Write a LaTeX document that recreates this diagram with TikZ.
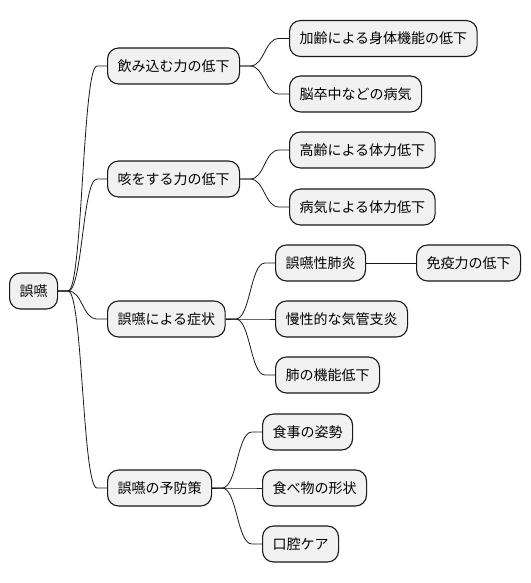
\documentclass[tikz,border=0pt]{standalone}
\usepackage{fontspec}
\setmainfont{Noto Sans CJK JP}
\usetikzlibrary{calc}
\definecolor{boxfill}{HTML}{F1F1F1}
\definecolor{boxline}{HTML}{181818}
\tikzset{
  mmnode/.style={draw=boxline, line width=1.1pt, fill=boxfill, rounded corners=11pt,
    inner xsep=10pt, inner ysep=0pt, minimum height=36pt, anchor=west,
    font=\fontsize{14}{16}\selectfont, text=black},
  link/.style={draw=boxline, line width=0.8pt}
}
\newcommand\mmlink[2]{%
  \path (#1.east) ++(10pt,0) coordinate (mmA);
  \path (#2.west) ++(-10pt,0) coordinate (mmB);
  \path ($(mmA)!.5!(mmB)$) coordinate (mmM);
  \draw[link] (#1.east) -- (mmA) .. controls (mmM |- mmA) and (mmM |- mmB) .. (mmB) -- (#2.west);}
\begin{document}
\begin{tikzpicture}[x=1pt,y=-1pt]
\useasboundingbox (0,0) rectangle (530,583);
\node[mmnode] (root) at (9,291) {誤嚥};
\node[mmnode] (a) at (107,66) {飲み込む力の低下};
\node[mmnode] (b) at (107,179) {咳をする力の低下};
\node[mmnode] (c) at (107,319) {誤嚥による症状};
\node[mmnode] (d) at (107,488) {誤嚥の予防策};
\node[mmnode] (a1) at (289,38.5) {加齢による身体機能の低下};
\node[mmnode] (a2) at (289,94) {脳卒中などの病気};
\node[mmnode] (b1) at (289,150) {高齢による体力低下};
\node[mmnode] (b2) at (289,207) {病気による体力低下};
\node[mmnode] (c1) at (275,263) {誤嚥性肺炎};
\node[mmnode] (c11) at (416,263) {免疫力の低下};
\node[mmnode] (c2) at (275,319) {慢性的な気管支炎};
\node[mmnode] (c3) at (275,375) {肺の機能低下};
\node[mmnode] (d1) at (262,432) {食事の姿勢};
\node[mmnode] (d2) at (262,488) {食べ物の形状};
\node[mmnode] (d3) at (262,544) {口腔ケア};
\mmlink{root}{a}
\mmlink{root}{b}
\mmlink{root}{c}
\mmlink{root}{d}
\mmlink{a}{a1}
\mmlink{a}{a2}
\mmlink{b}{b1}
\mmlink{b}{b2}
\mmlink{c}{c1}
\mmlink{c}{c2}
\mmlink{c}{c3}
\draw[link] (c1.east) -- (c11.west);
\mmlink{d}{d1}
\mmlink{d}{d2}
\mmlink{d}{d3}
\end{tikzpicture}
\end{document}
